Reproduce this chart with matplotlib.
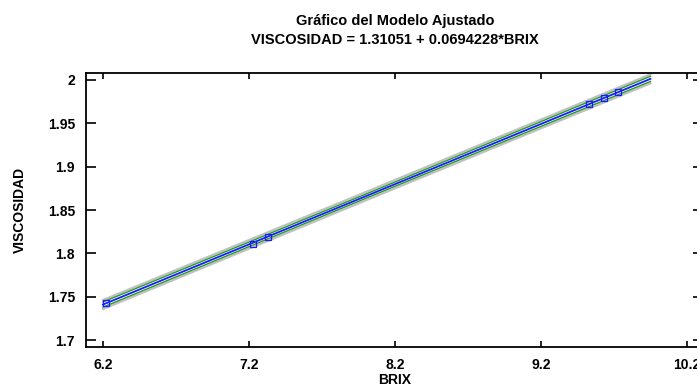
import matplotlib
matplotlib.use("Agg")
from matplotlib import pyplot as plt
import numpy as np

# observed points
brix = [6.22, 7.23, 7.33, 9.53, 9.63, 9.73]
viscosidad = [1.743, 1.811, 1.819, 1.972, 1.979, 1.986]

# fitted model VISCOSIDAD = b0 + b1*BRIX
b0 = 1.31051
b1 = 0.0694228
fit_x = [6.2, 9.95]

# half widths of the confidence (green) and prediction (gray) limits
conf_x = [6.2, 8.0, 9.95]
conf_hw = [0.0030, 0.0024, 0.0030]
pred_hw = [0.0052, 0.0048, 0.0052]

xticks = [6.2, 7.2, 8.2, 9.2, 10.2]
yticks = [1.7, 1.75, 1.8, 1.85, 1.9, 1.95, 2.0]
ytick_labels = ["1.7", "1.75", "1.8", "1.85", "1.9", "1.95", "2"]

plt.rcParams['font.family'] = ['Liberation Sans', 'DejaVu Sans']
plt.rcParams['font.weight'] = 'bold'

fig = plt.figure(figsize=(6.97, 3.87), dpi=100)
ax = fig.add_axes([86 / 697, 1 - 347 / 387, (703 - 86) / 697, (347 - 73) / 387])

fx = np.array(fit_x)
fy = b0 + b1 * fx
cx = np.array(conf_x)
cy = b0 + b1 * cx
for s in (-1, 1):
    ax.plot(cx, cy + s * np.array(pred_hw), color="#c0c0c0", lw=1.6, zorder=1)
    ax.plot(cx, cy + s * np.array(conf_hw), color="#239b23", lw=1.0, zorder=2)
ax.plot(fx, fy, color="#1a1aff", lw=1.3, zorder=3)
ax.plot(brix, viscosidad, ls="none", marker="s", ms=4, mfc="none",
        mec="#1a1aff", mew=0.9, zorder=4)

ax.set_xlim(6.084, 10.31)
ax.set_ylim(1.692, 2.008)
ax.set_xticks(xticks)
ax.set_xticklabels([str(v) for v in xticks])
ax.set_yticks(yticks)
ax.set_yticklabels(ytick_labels)
ax.tick_params(axis="x", direction="in", length=4, width=1.2, top=True,
               labelsize=10, pad=8)
ax.tick_params(axis="y", direction="in", length=7.5, width=1.2, right=True,
               labelsize=10, pad=8)
for sp in ax.spines.values():
    sp.set_linewidth(1.3)

ax.set_xlabel("BRIX", fontsize=10, fontweight="bold", labelpad=1)
ax.set_ylabel("VISCOSIDAD", fontsize=10, fontweight="bold", labelpad=15)
fig.text(395 / 697, 1 - 21 / 387, "Gráfico del Modelo Ajustado",
         ha="center", va="center", fontsize=10.5, fontweight="bold")
fig.text(395 / 697, 1 - 40 / 387, "VISCOSIDAD = 1.31051 + 0.0694228*BRIX",
         ha="center", va="center", fontsize=10.5, fontweight="bold")

fig.savefig("out.png", dpi=100)
